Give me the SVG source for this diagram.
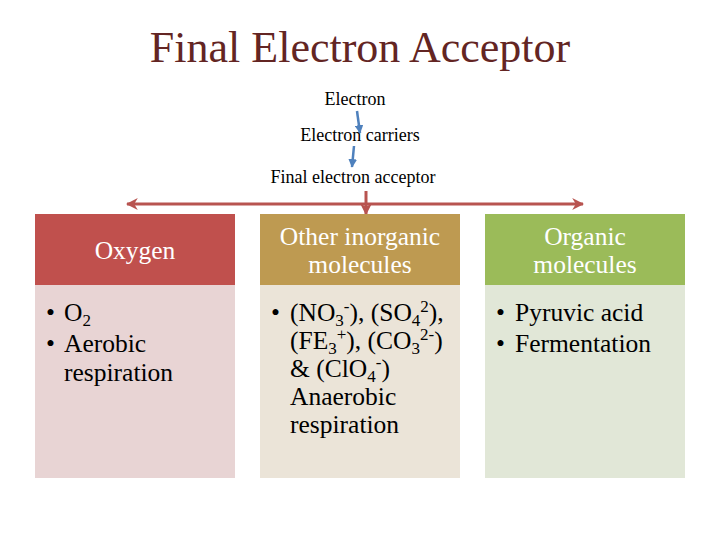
<svg xmlns="http://www.w3.org/2000/svg" width="720" height="540" viewBox="0 0 720 540" font-family="'Liberation Serif', 'Times New Roman', Times, serif">
<defs>
<style>
.t{fill:#632523;font-size:44px;text-anchor:middle;}
.s{fill:#000;font-size:18px;text-anchor:middle;}
.h{fill:#fff;font-size:25.5px;text-anchor:middle;}
.b{fill:#000;font-size:25.5px;}
.sub{font-size:17px;}
</style>
<marker id="ar" viewBox="0 0 10 10" refX="9" refY="5" markerWidth="4" markerHeight="4" orient="auto-start-reverse"><path d="M0,0 L10,5 L0,10 L3,5 Z" fill="#B85450"/></marker>
<marker id="ab" viewBox="0 0 10 10" refX="9" refY="5" markerWidth="3.5" markerHeight="3.5" orient="auto"><path d="M0,0 L10,5 L0,10 Z" fill="#4F81BD"/></marker>
</defs>
<rect width="720" height="540" fill="#fff"/>
<text class="t" x="360" y="62">Final Electron Acceptor</text>
<g id="chain">
<text class="s" x="355" y="105">Electron</text>
<text class="s" x="360" y="141">Electron carriers</text>
<text class="s" x="353" y="183">Final electron acceptor</text>
</g>
<g id="connectors">
<line x1="357" y1="111" x2="360" y2="133" stroke="#4F81BD" stroke-width="2.5" marker-end="url(#ab)"/>
<line x1="354" y1="146" x2="352" y2="167" stroke="#4F81BD" stroke-width="2.5" marker-end="url(#ab)"/>
<line x1="127" y1="204" x2="583" y2="204" stroke="#B85450" stroke-width="3" marker-start="url(#ar)" marker-end="url(#ar)"/>
<line x1="366" y1="191" x2="366" y2="214" stroke="#B85450" stroke-width="3" marker-end="url(#ar)"/>
</g>
<g id="oxygen">
<rect x="35" y="285" width="200" height="193" fill="#E8D4D4"/>
<rect x="35" y="214" width="200" height="71" fill="#C0504D"/>
<text class="h" x="135" y="259">Oxygen</text>
<text class="b" x="46" y="321">•<tspan x="64">O</tspan><tspan class="sub" dy="5">2</tspan></text>
<text class="b" x="46" y="352">•<tspan x="64">Aerobic</tspan></text>
<text class="b" x="64" y="381">respiration</text>
</g>
<g id="inorganic">
<rect x="260" y="285" width="200" height="193" fill="#EBE4D8"/>
<rect x="260" y="214" width="200" height="71" fill="#BE9A51"/>
<text class="h" x="360" y="245">Other inorganic</text>
<text class="h" x="360" y="273">molecules</text>
<text class="b" x="271" y="321">•<tspan x="290">(NO</tspan><tspan class="sub" dy="5">3</tspan><tspan class="sub" dy="-14">-</tspan><tspan dy="9">), (SO</tspan><tspan class="sub" dy="5">4</tspan><tspan class="sub" dy="-14">2</tspan><tspan dy="9">),</tspan></text>
<text class="b" x="290" y="349">(FE<tspan class="sub" dy="5">3</tspan><tspan class="sub" dy="-14">+</tspan><tspan dy="9">), (CO</tspan><tspan class="sub" dy="5">3</tspan><tspan class="sub" dy="-14">2-</tspan><tspan dy="9">)</tspan></text>
<text class="b" x="290" y="377">&amp; (ClO<tspan class="sub" dy="5">4</tspan><tspan class="sub" dy="-14">-</tspan><tspan dy="9">)</tspan></text>
<text class="b" x="290" y="405">Anaerobic</text>
<text class="b" x="290" y="433">respiration</text>
</g>
<g id="organic">
<rect x="485" y="285" width="200" height="193" fill="#E1E7D7"/>
<rect x="485" y="214" width="200" height="71" fill="#9BBB59"/>
<text class="h" x="585" y="245">Organic</text>
<text class="h" x="585" y="273">molecules</text>
<text class="b" x="496" y="321">•<tspan x="515">Pyruvic acid</tspan></text>
<text class="b" x="496" y="352">•<tspan x="515">Fermentation</tspan></text>
</g>
</svg>
